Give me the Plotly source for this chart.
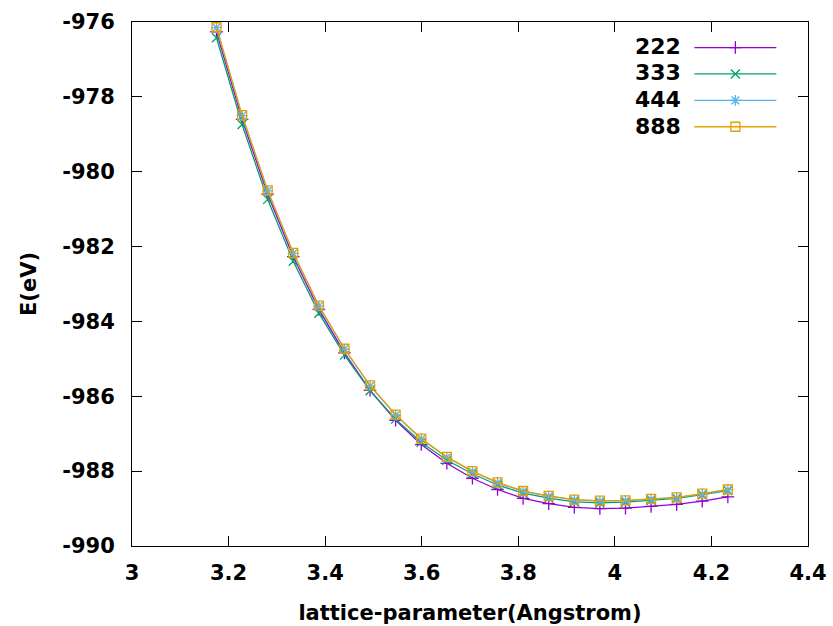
import plotly.graph_objects as go

# ---- data ----
lattice = [3.175, 3.228, 3.281, 3.334, 3.387, 3.440, 3.493, 3.546, 3.599, 3.652,
           3.705, 3.757, 3.810, 3.863, 3.916, 3.969, 4.022, 4.075, 4.128, 4.181, 4.234]

e_222 = [-976.26, -978.60, -980.60, -982.27, -983.68, -984.84, -985.84, -986.64, -987.29, -987.79,
         -988.19, -988.49, -988.73, -988.87, -988.97, -989.00, -988.99, -988.94, -988.89, -988.80, -988.69]
e_333 = [-976.42, -978.74, -980.74, -982.39, -983.78, -984.90, -985.85, -986.61, -987.23, -987.71,
         -988.07, -988.37, -988.59, -988.72, -988.82, -988.85, -988.83, -988.78, -988.73, -988.63, -988.52]
e_444 = [-976.15, -978.50, -980.51, -982.18, -983.59, -984.74, -985.72, -986.50, -987.14, -987.63,
         -988.01, -988.31, -988.54, -988.67, -988.77, -988.80, -988.79, -988.75, -988.71, -988.61, -988.50]
e_888 = [-976.14, -978.49, -980.50, -982.17, -983.58, -984.73, -985.71, -986.49, -987.13, -987.62,
         -988.00, -988.30, -988.53, -988.66, -988.76, -988.79, -988.78, -988.74, -988.70, -988.60, -988.49]

series_labels = ["222", "333", "444", "888"]
series_values = [e_222, e_333, e_444, e_888]
colors = ["#9400d3", "#009e73", "#56b4e9", "#e69f00"]
symbols = ["cross-thin-open", "x-thin-open", "asterisk-open", "square-open"]

x_ticks = [3, 3.2, 3.4, 3.6, 3.8, 4, 4.2, 4.4]
y_ticks = [-976, -978, -980, -982, -984, -986, -988, -990]

FONT = "DejaVu Sans"

fig = go.Figure()
for lab, vals, col, sym in zip(series_labels, series_values, colors, symbols):
    fig.add_trace(go.Scatter(
        x=lattice, y=vals, mode="lines+markers", name="",
        hovertemplate=lab + ": %{x}, %{y}<extra></extra>",
        line=dict(color=col, width=1.3),
        marker=dict(symbol=sym, size=9, color=col, line=dict(color=col, width=1.3)),
    ))

# legend labels drawn to the left of the keys (gnuplot style)
leg_y = [0.9525, 0.9029, 0.8521, 0.8011]
for lab, yy in zip(series_labels, leg_y):
    fig.add_annotation(x=0.8156, y=yy, xref="paper", yref="paper", text=lab,
                       showarrow=False, xanchor="right", yanchor="middle",
                       font=dict(family=FONT, size=22, color="black", weight="bold"))

axis_common = dict(
    showgrid=False, zeroline=False, showline=True, linecolor="black", linewidth=1,
    mirror="allticks", ticks="inside", ticklen=10, tickwidth=1, tickcolor="black",
    automargin=False,
    tickfont=dict(family=FONT, size=21, color="black", weight="bold"),
)

fig.update_xaxes(range=[3, 4.4], tickvals=x_ticks, ticktext=[f"{v:g}" for v in x_ticks],
                 ticklabelstandoff=8,
                 title=dict(text="lattice-parameter(Angstrom)", standoff=21,
                            font=dict(family=FONT, size=21, color="black", weight="bold")),
                 **axis_common)
fig.update_yaxes(range=[-990, -976], tickvals=y_ticks, ticktext=[f"{v:g}" for v in y_ticks],
                 ticklabelstandoff=12,
                 title=dict(text="E(eV)", standoff=19,
                            font=dict(family=FONT, size=21, color="black", weight="bold")),
                 **axis_common)

fig.update_layout(
    width=833, height=626,
    margin=dict(l=132, r=25, t=22, b=80, autoexpand=False),
    paper_bgcolor="white", plot_bgcolor="white",
    font=dict(family=FONT, color="black"),
    showlegend=True,
    legend=dict(x=0.8245, y=0.986, xanchor="left", yanchor="top",
                bgcolor="rgba(0,0,0,0)", borderwidth=0, itemwidth=82,
                font=dict(family=FONT, size=18), traceorder="normal"),
)

fig.write_html("out.html")
